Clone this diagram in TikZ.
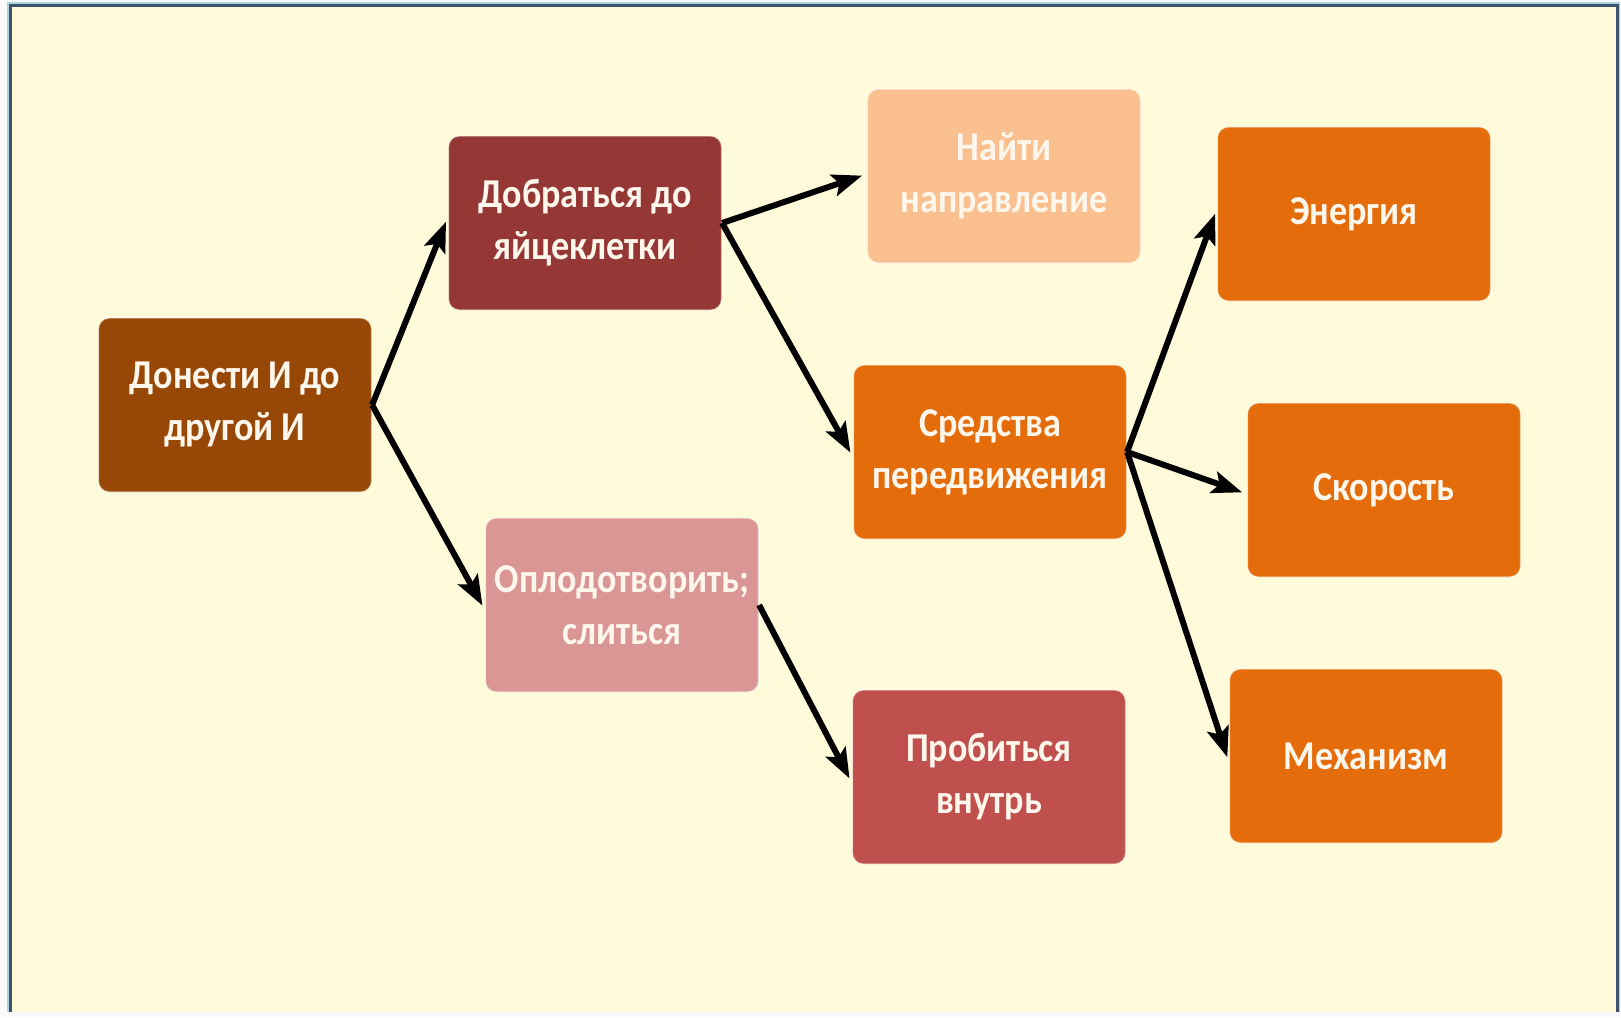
\documentclass[tikz,border=0pt]{standalone}
\usepackage{fontspec}
\setmainfont{Carlito}[FakeStretch=0.88]
\usetikzlibrary{arrows.meta}
\definecolor{bgc}{RGB}{255,250,218}
\definecolor{framec}{RGB}{60,84,112}
\definecolor{cA}{RGB}{151,72,6}
\definecolor{cB}{RGB}{149,55,53}
\definecolor{cC}{RGB}{250,192,144}
\definecolor{cD}{RGB}{228,108,10}
\definecolor{cE}{RGB}{217,150,148}
\definecolor{cF}{RGB}{192,80,77}
\definecolor{txt}{RGB}{255,246,236}
\tikzset{
  box/.style={rounded corners=11pt, minimum width=273pt, minimum height=174pt,
    inner sep=0pt, align=center, text=txt, draw=white, draw opacity=0.5, line width=1.2pt,
    font=\bfseries\fontsize{41}{52}\selectfont},
  arr/.style={line width=6pt, -{Stealth[length=30pt,width=22pt,inset=6pt]}, shorten >=5pt, black}
}
\begin{document}
\begin{tikzpicture}[x=1pt,y=-1pt]
\useasboundingbox (0,0) rectangle (1621,1017);
\fill[white!96!gray] (0,0) rectangle (1621,1017);
\fill[bgc] (10,5) rectangle (1617,1012);
\draw[framec!60!cyan!40!white, line width=1.5pt] (8,1012) -- (8,3) -- (1619,3) -- (1619,1012);
\draw[framec, line width=3pt] (10,1012) -- (10,5) -- (1617,5) -- (1617,1012);

\node[box, fill=cA] (A) at (235,405) {Донести И до\\другой И};
\node[box, fill=cB] (B) at (585,223) {Добраться до\\яйцеклетки};
\node[box, fill=cC] (C) at (1004,176) {Найти\\направление};
\node[box, fill=cD] (D) at (990,452) {Средства\\передвижения};
\node[box, fill=cE] (E) at (622,605) {Оплодотворить;\\слиться};
\node[box, fill=cF] (F) at (989,777) {Пробиться\\внутрь};
\node[box, fill=cD] (G) at (1354,214) {Энергия};
\node[box, fill=cD] (H) at (1384,490) {Скорость};
\node[box, fill=cD] (I) at (1366,756) {Механизм};

\draw[arr] (A.east) -- ([yshift=6pt]B.west);
\draw[arr] (A.east) -- ([yshift=-5pt]E.west);
\draw[arr] (B.east) -- ([yshift=2pt]C.west);
\draw[arr] (B.east) -- ([yshift=-5pt]D.west);
\draw[arr] (E.east) -- ([yshift=-6pt]F.west);
\draw[arr] (D.east) -- ([yshift=5pt]G.west);
\draw[arr] (D.east) -- ([yshift=-4pt]H.west);
\draw[arr] (D.east) -- ([yshift=-6pt]I.west);
\end{tikzpicture}
\end{document}
